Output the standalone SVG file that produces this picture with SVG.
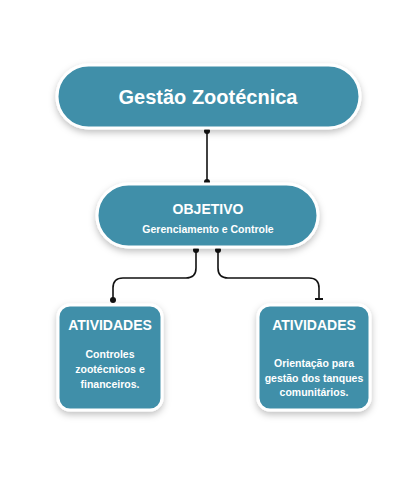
<svg xmlns="http://www.w3.org/2000/svg" width="414" height="496" viewBox="0 0 414 496">
<defs>
<filter id="sh" x="-20%" y="-30%" width="140%" height="170%">
<feDropShadow dx="0" dy="3" stdDeviation="3.5" flood-color="#000" flood-opacity="0.25"/>
</filter>
<marker id="dot" viewBox="0 0 6 6" refX="3" refY="3" markerWidth="6" markerHeight="6" markerUnits="userSpaceOnUse">
<circle cx="3" cy="3" r="3" fill="#111"/>
</marker>
</defs>
<style>
.box{fill:#3f8fa9;stroke:#fff;stroke-width:3;filter:url(#sh)}
.t{font-family:"Liberation Sans",Arial,sans-serif;font-weight:bold;fill:#fff;text-anchor:middle}
.c{fill:none;stroke:#111;stroke-width:1.6}
</style>
<rect width="414" height="496" fill="#fff"/>
<g id="connectors">
<path class="c" d="M207 131 V182" marker-start="url(#dot)" marker-end="url(#dot)"/>
<path class="c" d="M196 250 V268 Q196 278 186 278 H123 Q113 278 113 288 V300" marker-start="url(#dot)" marker-end="url(#dot)"/>
<path class="c" d="M218 250 V268 Q218 278 228 278 H309 Q319 278 319 288 V299" marker-start="url(#dot)"/>
<rect x="315" y="298" width="8" height="2" fill="#111"/>
</g>
<g id="gestao">
<rect class="box" x="57" y="65" width="303" height="63" rx="31.5"/>
<text class="t" x="208" y="104" font-size="20">Gestão Zootécnica</text>
</g>
<g id="objetivo">
<rect class="box" x="97" y="184" width="221" height="63" rx="31.5"/>
<text class="t" x="208" y="214" font-size="14">OBJETIVO</text>
<text class="t" x="208" y="233" font-size="10.5">Gerenciamento e Controle</text>
</g>
<g id="atividades1">
<rect class="box" x="58" y="305" width="104" height="105" rx="12"/>
<text class="t" x="110" y="330" font-size="14">ATIVIDADES</text>
<text class="t" x="110" y="358" font-size="10.5">Controles</text>
<text class="t" x="110" y="373" font-size="10.5">zootécnicos e</text>
<text class="t" x="110" y="388" font-size="10.5">financeiros.</text>
</g>
<g id="atividades2">
<rect class="box" x="258" y="305" width="112" height="105" rx="12"/>
<text class="t" x="314" y="330" font-size="14">ATIVIDADES</text>
<text class="t" x="314" y="367" font-size="10.5">Orientação para</text>
<text class="t" x="314" y="382" font-size="10.5">gestão dos tanques</text>
<text class="t" x="314" y="396" font-size="10.5">comunitários.</text>
</g>
</svg>
